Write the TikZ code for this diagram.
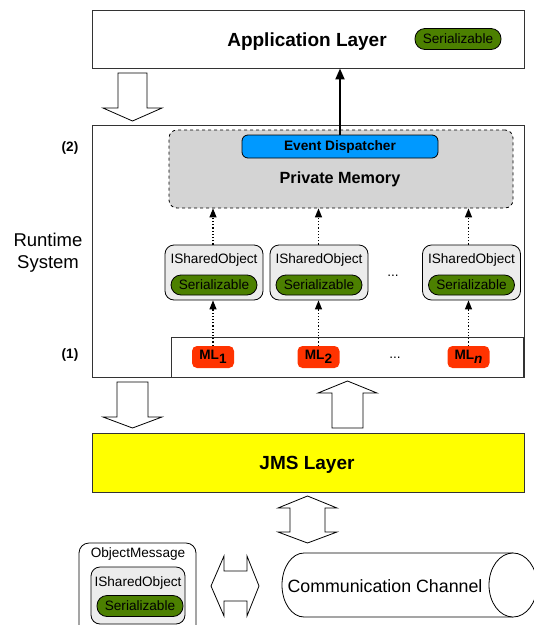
\documentclass[tikz,border=0pt]{standalone}
\usepackage{fontspec}
\setmainfont{Liberation Sans}
\usetikzlibrary{arrows.meta,calc}
\definecolor{sergreen}{RGB}{76,128,0}
\definecolor{evblue}{RGB}{0,153,255}
\definecolor{mlred}{RGB}{255,51,0}
\definecolor{jmsyellow}{RGB}{255,255,0}
\definecolor{memgray}{RGB}{212,212,212}
\definecolor{isogray}{RGB}{236,236,236}
\tikzset{
  layerbox/.style={draw=black!80, line width=0.9pt, inner sep=0pt},
  serpill/.style={draw=black, line width=0.8pt, fill=sergreen, rounded corners=10pt,
    minimum width=86pt, minimum height=21pt, inner sep=0pt, font=\fontsize{13.6}{14}\selectfont},
  isobox/.style={draw=black, line width=0.8pt, fill=isogray, rounded corners=9pt,
    minimum width=98pt, minimum height=55pt, inner sep=0pt},
  isolabel/.style={font=\fontsize{13.6}{14}\selectfont, inner sep=0pt},
  mlnode/.style={fill=mlred, rounded corners=5pt, minimum width=42pt, minimum height=22pt,
    inner sep=0pt, font=\bfseries\fontsize{13.6}{14}\selectfont},
  dotarrow/.style={dotted, line width=1.2pt, -{Triangle[length=9pt,width=7pt]}},
  hollow/.style={draw=black, line width=0.8pt, fill=white},
  lbl/.style={inner sep=0pt, font=\fontsize{13.6}{14}\selectfont}
}
\begin{document}
\begin{tikzpicture}[x=1pt,y=-1pt]
\useasboundingbox (0,0) rectangle (534,625);
\clip (0,0) rectangle (534,625);

% Application layer
\node[layerbox, minimum width=432pt, minimum height=58pt] (app) at (308,39) {};
\node[inner sep=0pt, font=\bfseries\fontsize{19}{20}\selectfont] (applbl) at (307,42) {Application Layer};
\node[serpill] (appser) at (458,39) {Serializable};

% runtime system
\node[layerbox, minimum width=432pt, minimum height=252pt] (rt) at (308,251) {};
\node[lbl, font=\bfseries\fontsize{13.6}{14}\selectfont] (l2) at (70,148) {(2)};
\node[lbl, font=\bfseries\fontsize{13.6}{14}\selectfont] (l1) at (70,355) {(1)};
\node[inner sep=0pt, align=center, font=\fontsize{18.5}{22}\selectfont] (rtlbl) at (48,253) {Runtime\\System};

% private memory
\node[draw=black, dashed, line width=0.8pt, fill=memgray, rounded corners=8pt,
  minimum width=344pt, minimum height=78pt, inner sep=0pt] (pm) at (341,169) {};
\node[draw=black, line width=0.8pt, fill=evblue, rounded corners=6pt,
  minimum width=196pt, minimum height=23pt, inner sep=0pt,
  font=\bfseries\fontsize{13.7}{14}\selectfont] (ed) at (340,146.5) {Event Dispatcher};
\node[inner sep=0pt, font=\bfseries\fontsize{16.2}{17}\selectfont] (pmlbl) at (340,179) {Private Memory};

% ISharedObjects
\foreach \i/\x in {1/214,2/319,3/471.5}{
  \node[isobox] (iso\i) at (\x,272.5) {};
  \node[isolabel] (isol\i) at (\x,260) {ISharedObject};
  \node[serpill, minimum height=20pt] (isos\i) at (\x,285) {Serializable};
}
\node[lbl] (dots1) at (393,276) {...};

% ML box
\node[layerbox, minimum width=352pt, minimum height=40pt] (mlbox) at (347,357) {};
\node[mlnode] (ml1) at (213,357) {ML\raisebox{-4pt}{1}};
\node[mlnode] (ml2) at (318.5,357) {ML\raisebox{-4pt}{2}};
\node[mlnode] (mln) at (468.5,357) {ML\raisebox{-4pt}{\itshape n}};
\node[lbl] (dots2) at (395,358) {...};

% dotted arrows
\foreach \m/\k in {ml1/1,ml2/2,mln/3}{
  \draw[dotarrow] (\m.north) -- (\m.north |- iso\k.south);
  \draw[dotarrow] (\m.north |- iso\k.north) -- (\m.north |- pm.south);
}

% event dispatcher to application layer
\draw[line width=2pt, -{Triangle[length=11pt,width=9pt]}] (ed.north) -- (ed.north |- app.south);

% JMS layer
\node[layerbox, fill=jmsyellow, minimum width=432pt, minimum height=59pt] (jms) at (308,462.5) {};
\node[inner sep=0pt, font=\bfseries\fontsize{19}{20}\selectfont] (jmslbl) at (307,465) {JMS Layer};

% hollow arrows
\draw[hollow] (118,73) -- (147,73) -- (147,108) -- (162,108) -- (132.5,121) -- (103,108) -- (118,108) -- cycle;
\draw[hollow] (117,382) -- (148,382) -- (148,417) -- (162,417) -- (132.5,428) -- (103,417) -- (117,417) -- cycle;
\draw[hollow] (332,428) -- (363,428) -- (363,393) -- (377,393) -- (347.5,381) -- (318,393) -- (332,393) -- cycle;
\draw[hollow] (307.5,496) -- (337,508) -- (325,508) -- (325,532) -- (337,532) -- (307.5,543)
  -- (278,532) -- (290,532) -- (290,508) -- (278,508) -- cycle;
\draw[hollow] (211,586) -- (224,556) -- (224,571) -- (247,571) -- (247,556) -- (259,586)
  -- (247,616) -- (247,601) -- (224,601) -- (224,616) -- cycle;

% ObjectMessage
\node[draw=black, line width=0.8pt, fill=white, rounded corners=10pt,
  minimum width=117pt, minimum height=100pt, inner sep=0pt] (om) at (137.5,593) {};
\node[isolabel] (omlbl) at (138,554) {ObjectMessage};
\node[isobox, minimum width=94pt, minimum height=57pt] (omiso) at (138,595.5) {};
\node[isolabel] (omisol) at (138,583) {ISharedObject};
\node[serpill] (omser) at (140,606) {Serializable};

% Communication channel (cylinder)
\draw[line width=0.8pt, fill=white] (513,553) -- (304,553)
  .. controls (291.85,553) and (282,567.3) .. (282,585)
  .. controls (282,602.7) and (291.85,617) .. (304,617) -- (513,617);
\draw[line width=0.8pt, fill=white] (513,585) ellipse[x radius=24, y radius=32];
\node[inner sep=0pt, font=\fontsize{17.8}{18}\selectfont] (cc) at (385,586) {Communication Channel};
\end{tikzpicture}
\end{document}
